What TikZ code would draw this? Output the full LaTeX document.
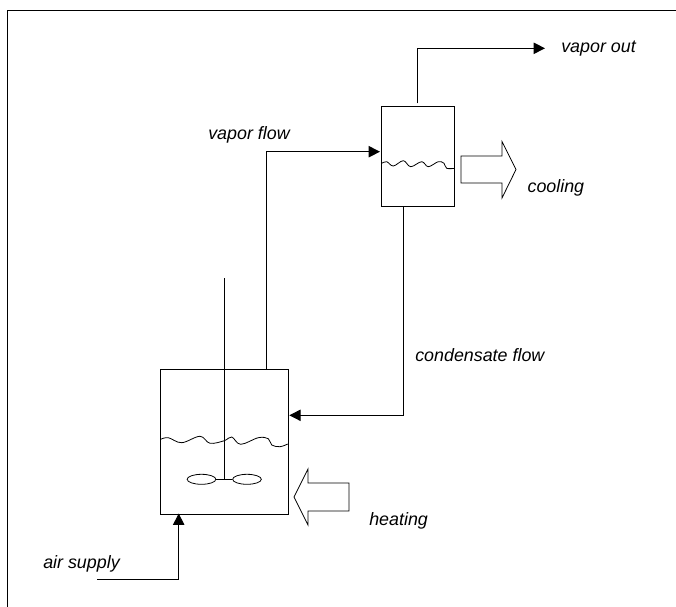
\documentclass[tikz,border=0pt]{standalone}
\usepackage{fontspec}
\setmainfont{Liberation Sans}
\usetikzlibrary{arrows.meta,shapes.geometric}
\tikzset{
    vessel/.style={draw, line width=0.75pt, inner sep=0pt},
    blade/.style={draw, ellipse, line width=0.6pt, minimum width=21.5pt, minimum height=7.5pt, inner sep=0pt},
    flowlabel/.style={font=\itshape\fontsize{13.4}{16}\selectfont, inner sep=0pt, anchor=base west},
    flow/.style={line width=0.75pt, -{Triangle[length=8.5pt, width=8.5pt]}},
}
\begin{document}
\begin{tikzpicture}[x=0.75pt, y=-0.75pt]
    \useasboundingbox (0,0) rectangle (676,607);
    \draw[line width=0.75pt] (7.5,607) -- (7.5,10.5) -- (676,10.5);

    % vessels
    \node[vessel, minimum width=95.6pt, minimum height=109.1pt] (tank) at (224.3,442.2) {};
    \node[vessel, minimum width=54.8pt, minimum height=75pt] (condenser) at (418.2,156) {};

    % free ends
    \coordinate (airin) at (97,579);
    \coordinate (ventout) at (545,48.3);
    \coordinate (shafttop) at (224.3,278);
    \coordinate (vaporout) at (266.7,369.5);
    \coordinate (condensateout) at (403,206);
    \coordinate (ventstart) at (417.7,103.3);
    \coordinate (airtip) at (178.7,513.5);
    \coordinate (vaportip) at (380,151.7);
    \coordinate (condensatetip) at (289.3,415.3);

    % flows
    \draw[flow] (airin) -| (airtip);
    \draw[flow] (vaporout) |- (vaportip);
    \draw[flow] (condensateout) |- (condensatetip);
    \draw[flow] (ventstart) |- (ventout);

    % agitator
    \node[blade] (bladeL) at (201.5,479.3) {};
    \node[blade] (bladeR) at (247,479.3) {};
    \draw[line width=0.75pt] (bladeL) -- (bladeR);
    \draw[line width=0.75pt] (shafttop) -- (224.3,479.3);

    % liquid levels
    \draw[line width=0.6pt] plot[smooth, tension=0.6] coordinates {(160.7,439.3) (168.3,437.7) (181.7,442.7) (200,436.3) (210,443.3) (224.3,440.7) (231.7,437) (240.7,444.3) (258.3,437.7) (268.3,438.7) (271.7,445) (280,446.7) (287.7,444)};
    \draw[line width=0.6pt] plot[smooth, tension=0.6] coordinates {(381.7,163.3) (386.7,161.7) (393.3,166) (403.3,160.7) (410.7,166.7) (421.7,161.7) (428.3,166.7) (438.3,161.7) (444,163.3) (446.7,168.3) (454.7,168.3)};

    % heat arrows
    \draw[line width=0.6pt] (461,156) -- (461,183) -- (502,183) -- (502,198) -- (516,169.5) -- (502,141.5) -- (502,156) -- cycle;
    \draw[line width=0.6pt] (349,483) -- (349,511) -- (308,511) -- (308,525) -- (294,497) -- (308,469) -- (308,483) -- cycle;

    % labels
    \node[flowlabel] (ventlabel) at (561,52.7) {vapor out};
    \node[flowlabel] (vaporlabel) at (208,139) {vapor flow};
    \node[flowlabel] (coolinglabel) at (527.3,192.7) {cooling};
    \node[flowlabel] (condensatelabel) at (415,361.7) {condensate flow};
    \node[flowlabel] (heatinglabel) at (369,525) {heating};
    \node[flowlabel] (airlabel) at (43,568) {air supply};
\end{tikzpicture}
\end{document}
